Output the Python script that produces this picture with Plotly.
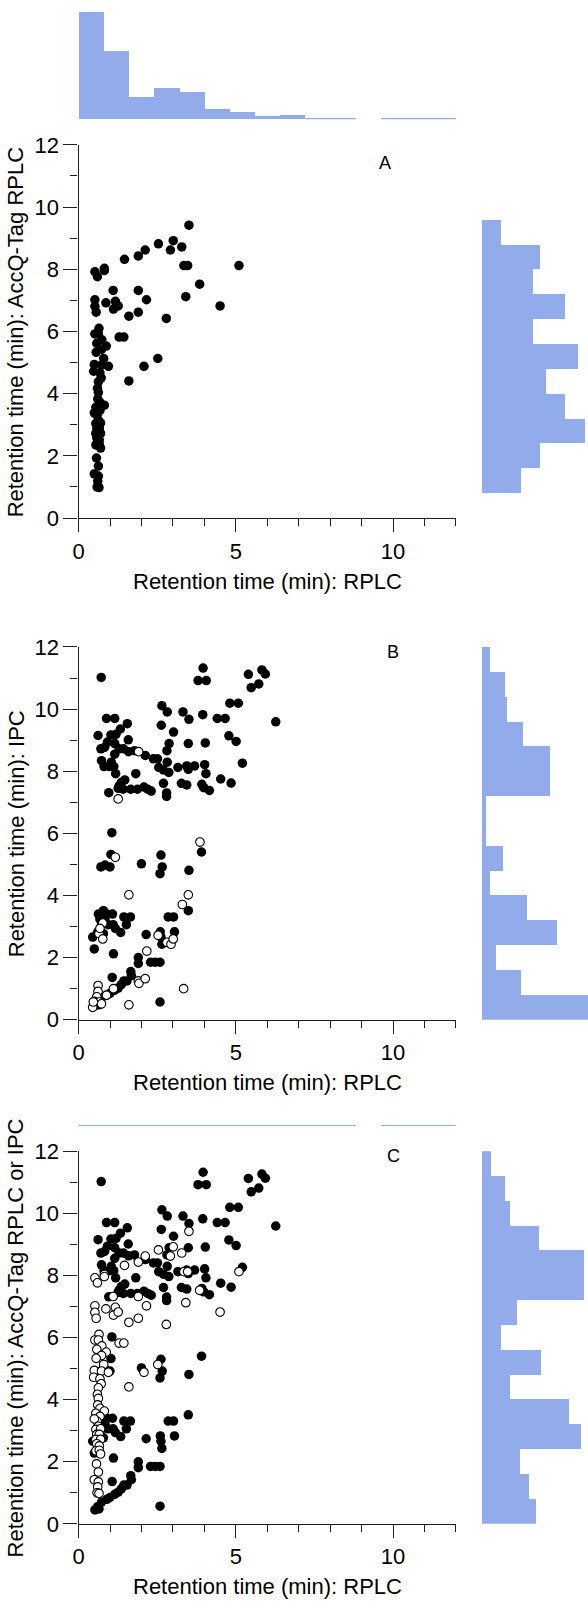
import plotly.graph_objects as go

# ---------------- data ----------------
# Panel A: RPLC vs AccQ-Tag RPLC
A_x = [3.51, 3.01, 2.54, 3.28, 2.92, 2.12, 1.90, 1.46, 5.10, 3.35, 3.47, 0.82, 0.82, 0.52, 0.60,
       3.85, 1.10, 1.90, 3.41, 2.16, 0.52, 1.17, 0.87, 0.52, 1.11, 1.26, 4.50, 0.56, 1.90, 1.60,
       2.79, 0.65, 0.52, 0.63, 1.29, 1.44, 0.74, 0.58, 0.88, 0.73, 0.56, 0.80, 2.52, 0.50, 0.73,
       0.95, 2.08, 0.48, 0.68, 0.72, 0.63, 1.60, 0.60, 0.63, 0.61, 0.68, 0.82, 0.55, 0.68, 0.59,
       0.50, 0.63, 0.55, 0.70, 0.58, 0.66, 0.55, 0.70, 0.58, 0.66, 0.55, 0.66, 0.70, 0.57, 0.63,
       0.50, 0.63, 0.61, 0.59, 0.65]
A_y = [9.42, 8.92, 8.82, 8.72, 8.62, 8.62, 8.43, 8.32, 8.12, 8.12, 8.12, 8.03, 7.96, 7.92, 7.76,
       7.52, 7.32, 7.32, 7.12, 7.02, 7.02, 6.97, 6.92, 6.81, 6.72, 6.82, 6.82, 6.62, 6.62, 6.49,
       6.42, 6.10, 5.92, 5.92, 5.82, 5.82, 5.73, 5.62, 5.53, 5.42, 5.33, 5.13, 5.13, 4.94, 4.92,
       4.88, 4.88, 4.72, 4.67, 4.51, 4.38, 4.41, 4.17, 4.04, 3.83, 3.72, 3.63, 3.56, 3.46, 3.30,
       3.38, 3.14, 3.04, 3.06, 2.88, 2.88, 2.72, 2.72, 2.58, 2.51, 2.35, 2.37, 2.25, 1.93, 1.67,
       1.42, 1.35, 1.19, 1.00, 0.98]

# Panel B: RPLC vs IPC (filled)
B_fill_x = [0.72, 3.96, 3.80, 4.06, 5.40, 5.83, 5.94, 5.49, 5.73, 4.81, 5.08, 6.27, 4.41, 4.66,
            2.65, 2.82, 3.32, 3.51, 3.95, 2.63, 3.02, 4.03, 4.78, 5.01, 3.49, 2.88, 2.81, 2.82,
            2.51, 5.21, 3.16, 3.44, 3.69, 3.49, 4.01, 2.55, 2.70, 2.87, 4.05, 4.52, 4.85, 3.27,
            3.44, 2.70, 3.92, 3.98, 4.16, 2.80, 2.80, 2.38, 2.12, 1.82, 1.55, 1.58, 1.33, 1.19,
            1.15, 0.89, 1.15, 1.03, 0.92, 0.83, 0.62, 0.71, 0.73, 0.81, 0.99, 1.04, 1.18, 1.29,
            1.15, 1.43, 1.59, 1.78, 1.12, 0.96, 1.29, 1.36, 1.47, 1.26, 1.42, 1.66, 1.87, 2.08,
            2.20, 2.31, 1.06, 1.03, 0.71, 0.84, 1.00, 2.00, 2.62, 2.66, 2.59, 3.91, 3.51, 3.49,
            0.63, 0.79, 0.90, 0.68, 0.84, 0.73, 0.94, 0.61, 0.79, 1.08, 1.10, 1.17, 1.34, 1.44,
            1.65, 1.52, 1.11, 2.15, 3.05, 2.85, 3.02, 2.60, 2.62, 2.65, 1.90, 1.90, 2.29, 2.44,
            2.59, 1.66, 1.68, 1.07, 1.44, 1.54, 1.36, 1.26, 1.15, 1.00, 2.59, 0.90, 0.73, 0.60,
            0.52, 0.65, 0.50, 0.45]
B_fill_y = [11.02, 11.32, 10.92, 10.92, 11.12, 11.26, 11.13, 10.69, 10.81, 10.19, 10.19, 9.59,
            9.70, 9.70, 10.11, 9.91, 9.91, 9.67, 9.82, 9.48, 9.26, 8.91, 9.14, 8.96, 8.89, 8.89,
            8.66, 8.29, 8.40, 8.26, 8.12, 8.17, 8.17, 8.06, 8.21, 8.12, 8.04, 7.96, 7.92, 7.75,
            7.62, 7.61, 7.56, 7.61, 7.58, 7.47, 7.38, 7.30, 7.19, 8.40, 8.51, 7.92, 9.53, 9.01,
            9.36, 9.19, 8.89, 9.70, 9.70, 9.17, 8.94, 8.77, 9.15, 8.72, 8.34, 8.15, 8.15, 8.29,
            7.92, 8.72, 8.55, 8.72, 8.63, 8.66, 8.15, 7.31, 7.53, 7.64, 7.72, 7.45, 7.42, 7.42,
            7.42, 7.49, 7.42, 7.36, 6.02, 5.32, 4.92, 4.98, 4.92, 5.02, 5.30, 4.92, 4.70, 5.40,
            4.81, 3.51, 3.40, 3.51, 3.40, 3.23, 3.23, 3.06, 3.06, 2.83, 2.77, 3.40, 3.06, 2.94,
            2.81, 3.31, 3.31, 3.06, 2.12, 2.74, 2.83, 3.31, 3.31, 2.83, 2.66, 2.43, 2.00, 1.81,
            1.85, 1.85, 1.85, 1.55, 1.42, 1.36, 1.25, 1.25, 1.13, 1.02, 0.95, 0.85, 0.57, 0.79,
            0.70, 0.55, 0.45, 0.48, 2.28, 2.66]
# Panel B: RPLC vs IPC (open)
B_open_x = [1.91, 1.26, 1.17, 3.86, 1.60, 3.49, 3.30, 0.77, 0.65, 0.77, 0.68, 2.81, 2.94, 3.01,
            2.53, 2.17, 1.90, 1.92, 2.12, 3.34, 1.60, 1.11, 0.89, 0.62, 0.62, 0.58, 0.50, 0.66,
            0.45, 0.73, 0.47]
B_open_y = [8.63, 7.11, 5.23, 5.72, 4.02, 4.02, 3.71, 3.11, 2.77, 2.60, 2.94, 2.49, 2.43, 2.60,
            2.72, 2.21, 1.25, 1.17, 1.32, 1.00, 0.48, 1.00, 0.79, 1.10, 0.91, 0.74, 0.59, 0.57,
            0.40, 0.51, 0.57]

# Histograms (bar lengths as drawn)
TOP_A_EDGES = [0.0, 0.8, 1.6, 2.4, 3.2, 4.0, 4.8, 5.6, 6.4, 7.2, 8.0, 8.8, 9.6, 10.4, 11.2]
TOP_A_VALS = [120, 69, 22.7, 31.7, 27.3, 10, 7, 3.3, 4.7, 1, 1, 0, 1.7, 1, 1]
TOP_C_VALS = [1.3, 1.3, 1.3, 1.3, 1.3, 1.3, 1.3, 1.3, 1.3, 1.3, 1.3, 0, 1.3, 1.3, 1.3]

RIGHT_A_EDGES = [0.8, 1.6, 2.4, 3.2, 4.0, 4.8, 5.6, 6.4, 7.2, 8.0, 8.8]
RIGHT_A_VALS = [39, 58.3, 103.7, 84.3, 64.7, 97.3, 51.7, 84.3, 51.7, 58.3, 19.3]

RIGHT_BC_EDGES = [0.0, 0.8, 1.6, 2.4, 3.2, 4.0, 4.8, 5.6, 6.4, 7.2, 8.0, 8.8, 9.6, 10.4, 11.2]
RIGHT_B_VALS = [110, 39, 13.7, 76, 45, 7.7, 21.3, 3.7, 3.7, 68.3, 68.3, 41, 25.3, 23, 7.7]
RIGHT_C_VALS = [55, 47.7, 38.3, 100.3, 88, 28.7, 59.7, 19, 35.7, 102.7, 102.7, 57.3, 28.7, 23.7, 9.3]
BIN_W = 0.8

X_TITLE = "Retention time (min): RPLC"
Y_TITLES = ["Retention time (min): AccQ-Tag RPLC",
            "Retention time (min): IPC",
            "Retention time (min): AccQ-Tag RPLC or IPC"]
PANEL_LABELS = ["A", "B", "C"]

# ---------------- layout helpers ----------------
W, H = 588, 1611
FONT = "Liberation Sans, Arial, Helvetica, sans-serif"
AX_COL = "#231f20"
BAR_COL = "#92abea"


def fx(p):
    return p / W


def fy(p):
    return 1 - p / H


X_DOM = [fx(73.3), fx(454.6)]
# pixel rows (top of y=12, y=0) for panels A, B, C
ROWS = [(135.0, 514.0), (645.0, 1023.6), (1157.1, 1535.7)]
HIST_X_DOM = [fx(480.7), 1.0]
HIST_X_RANGE = [0, 107.3]

fig = go.Figure()

centers_top = [e + BIN_W / 2 for e in TOP_A_EDGES]
centers_ra = [e + BIN_W / 2 for e in RIGHT_A_EDGES]
centers_bc = [e + BIN_W / 2 for e in RIGHT_BC_EDGES]

filled = dict(color="black", size=9.5, line=dict(width=0))
opened = dict(color="white", size=8.6, line=dict(color="black", width=1.1))

# Panel A
fig.add_trace(go.Scatter(x=A_x, y=A_y, mode="markers", marker=filled, xaxis="x", yaxis="y"))
# Panel B
fig.add_trace(go.Scatter(x=B_fill_x, y=B_fill_y, mode="markers", marker=filled, xaxis="x2", yaxis="y2"))
fig.add_trace(go.Scatter(x=B_open_x, y=B_open_y, mode="markers", marker=opened, xaxis="x2", yaxis="y2"))
# Panel C
fig.add_trace(go.Scatter(x=B_fill_x, y=B_fill_y, mode="markers", marker=filled, xaxis="x3", yaxis="y3"))
fig.add_trace(go.Scatter(x=A_x, y=A_y, mode="markers", marker=opened, xaxis="x3", yaxis="y3"))

# Top histograms
fig.add_trace(go.Bar(x=centers_top, y=TOP_A_VALS, width=BIN_W, marker=dict(color=BAR_COL, line=dict(width=0)),
                     xaxis="x4", yaxis="y4"))
fig.add_trace(go.Bar(x=centers_top, y=TOP_C_VALS, width=BIN_W, marker=dict(color=BAR_COL, line=dict(width=0)),
                     xaxis="x5", yaxis="y5"))
# Right histograms
fig.add_trace(go.Bar(y=centers_ra, x=RIGHT_A_VALS, width=BIN_W, orientation="h",
                     marker=dict(color=BAR_COL, line=dict(width=0)), xaxis="x6", yaxis="y6"))
fig.add_trace(go.Bar(y=centers_bc, x=RIGHT_B_VALS, width=BIN_W, orientation="h",
                     marker=dict(color=BAR_COL, line=dict(width=0)), xaxis="x7", yaxis="y7"))
fig.add_trace(go.Bar(y=centers_bc, x=RIGHT_C_VALS, width=BIN_W, orientation="h",
                     marker=dict(color=BAR_COL, line=dict(width=0)), xaxis="x8", yaxis="y8"))

layout = dict(
    width=W, height=H, margin=dict(l=0, r=0, t=0, b=0),
    paper_bgcolor="white", plot_bgcolor="white", showlegend=False, bargap=0,
    font=dict(family=FONT, size=22, color="black"),
)

for i, (ytop, ybot) in enumerate(ROWS):
    sfx = "" if i == 0 else str(i + 1)
    ydom = [fy(ybot), fy(ytop)]
    layout["xaxis" + sfx] = dict(
        domain=X_DOM, range=[0, 12], anchor="y" + sfx, showgrid=False, zeroline=False,
        showline=True, linecolor=AX_COL, linewidth=1.2, ticks="outside", ticklen=13,
        tickwidth=1.2, tickcolor=AX_COL, tickmode="linear", tick0=0, dtick=5,
        tickfont=dict(size=22, family=FONT, color="black"),
        minor=dict(ticks="outside", ticklen=7, tickwidth=1.2, tickcolor=AX_COL, dtick=1, tick0=0, showgrid=False),
    )
    layout["yaxis" + sfx] = dict(
        domain=ydom, range=[0, 12], anchor="x" + sfx, showgrid=False, zeroline=False,
        showline=True, linecolor=AX_COL, linewidth=1.2, ticks="outside", ticklen=14,
        tickwidth=1.2, tickcolor=AX_COL, tickmode="linear", tick0=0, dtick=2,
        tickfont=dict(size=22, family=FONT, color="black"),
        minor=dict(ticks="outside", ticklen=7, tickwidth=1.2, tickcolor=AX_COL, dtick=1, tick0=0, showgrid=False),
    )

hidden = dict(showgrid=False, zeroline=False, showline=False, showticklabels=False, ticks="")

# top-A histogram
layout["xaxis4"] = dict(domain=X_DOM, range=[0, 12], anchor="y4", **hidden)
layout["yaxis4"] = dict(domain=[fy(109), 1.0], range=[0, 109], anchor="x4", **hidden)
# top-C histogram
layout["xaxis5"] = dict(domain=X_DOM, range=[0, 12], anchor="y5", **hidden)
layout["yaxis5"] = dict(domain=[fy(1131.5), fy(1100)], range=[0, 31.5], anchor="x5", **hidden)
# right histograms
for k, i in zip([6, 7, 8], [0, 1, 2]):
    ytop, ybot = ROWS[i]
    layout["xaxis%d" % k] = dict(domain=HIST_X_DOM, range=HIST_X_RANGE, anchor="y%d" % k, **hidden)
    layout["yaxis%d" % k] = dict(domain=[fy(ybot), fy(ytop)], range=[0, 12], anchor="x%d" % k, **hidden)

annotations = []
label_pos = [(9.74, 11.43), (10.0, 11.85), (10.0, 11.85)]
for i, (ytop, ybot) in enumerate(ROWS):
    sfx = "" if i == 0 else str(i + 1)
    annotations.append(dict(text=Y_TITLES[i], textangle=-90, xref="paper", yref="paper",
                            x=fx(10), y=fy((ytop + ybot) / 2), xanchor="center", yanchor="middle",
                            showarrow=False, font=dict(size=22, family=FONT, color="black")))
    annotations.append(dict(text=X_TITLE, xref="paper", yref="paper",
                            x=(X_DOM[0] + X_DOM[1]) / 2, y=fy(ybot + 64), xanchor="center", yanchor="middle",
                            showarrow=False, font=dict(size=22, family=FONT, color="black")))
    lx, ly = label_pos[i]
    annotations.append(dict(text=PANEL_LABELS[i], xref="x" + sfx, yref="y" + sfx, x=lx, y=ly,
                            xanchor="center", yanchor="middle", showarrow=False,
                            font=dict(size=18, family=FONT, color="black")))
layout["annotations"] = annotations

fig.update_layout(**layout)
fig.write_html("out.html", config={"displayModeBar": False},
               post_script="document.body.style.margin='0px';")
